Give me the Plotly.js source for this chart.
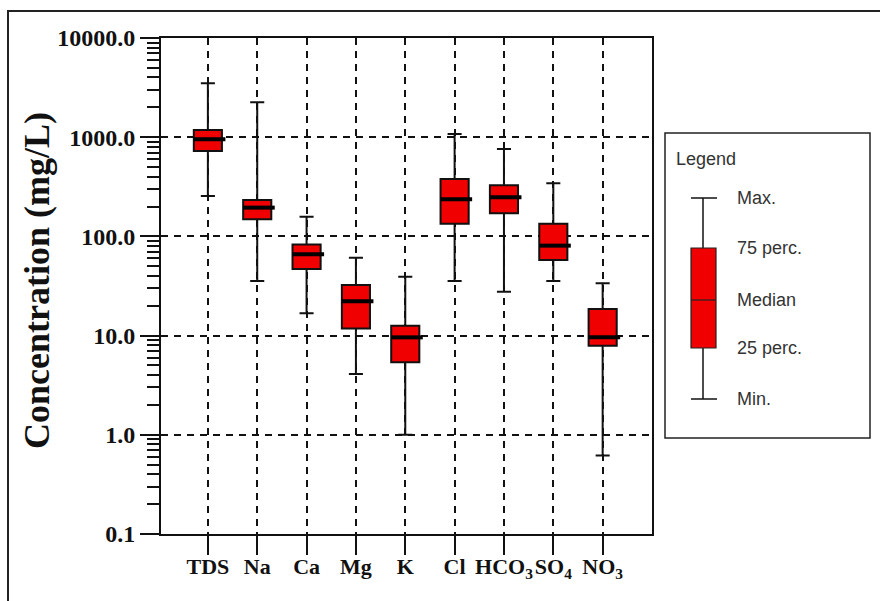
<!DOCTYPE html>
<html>
<head>
<meta charset="utf-8">
<script src="https://cdn.plot.ly/plotly-3.0.1.min.js"></script>
<style>
  html, body { margin: 0; padding: 0; background: #fff; overflow: hidden; }
  #wrap { position: relative; width: 880px; height: 601px; }
  #frame { position: absolute; left: 7px; top: 10px; width: 900px; height: 700px; border: 2px solid #222; box-sizing: border-box; pointer-events: none; }
  #chart { position: absolute; left: 0; top: 0; width: 880px; height: 601px; }
</style>
</head>
<body>
<div id="wrap">
  <div id="chart"></div>
  <div id="frame"></div>
</div>
<script>
// ---- data (mg/L) ----
const categories = ["TDS", "Na", "Ca", "Mg", "K", "Cl", "HCO<sub>3</sub>", "SO<sub>4</sub>", "NO<sub>3</sub>"];
const minVals    = [255, 35.5, 16.8, 4.1, 1.0, 35.5, 27.7, 35.5, 0.62];
const q1Vals     = [726, 149, 47, 11.8, 5.4, 134, 171, 57.8, 7.9];
const medianVals = [953, 195, 66, 22.2, 9.6, 237, 248, 80.7, 9.6];
const q3Vals     = [1183, 233, 83, 32.4, 12.6, 379, 327, 134, 18.5];
const maxVals    = [3490, 2249, 158, 61, 39.3, 1077, 760, 343, 33.7];
const yTickVals  = [0.1, 1, 10, 100, 1000, 10000];
const yTickText  = ["0.1", "1.0", "10.0", "100.0", "1000.0", "10000.0"];
const legendLabels = ["Max.", "75 perc.", "Median", "25 perc.", "Min."];

const idx = categories.map((_, i) => i);
const BOXW = 0.57;

const boxTrace = {
  type: 'box',
  x: idx,
  q1: q1Vals,
  median: medianVals,
  q3: q3Vals,
  lowerfence: minVals,
  upperfence: maxVals,
  width: BOXW,
  whiskerwidth: 1.03,
  fillcolor: '#f00000',
  line: { color: '#111', width: 2 },
  boxpoints: false,
  hoverinfo: 'skip',
  showlegend: false
};

// thick median bars
const mx = [], my = [];
idx.forEach(i => { mx.push(i - BOXW / 2, i + BOXW / 2 + 0.07, null); my.push(medianVals[i], medianVals[i], null); });
const medTrace = {
  type: 'scatter', mode: 'lines', x: mx, y: my,
  line: { color: '#000', width: 4 }, hoverinfo: 'skip', showlegend: false
};

// ---- layout geometry (pixels) ----
const W = 880, H = 601, L = 161, R = 652, T = 38, B = 534;
const px = v => (v - L) / (R - L);
const py = v => (B - v) / (B - T);

const serifBold = { family: 'Liberation Serif, Times New Roman, serif', size: 24, color: '#111' };
const serifBoldX = { family: 'Liberation Serif, Times New Roman, serif', size: 22, color: '#111' };
const sans = { family: 'Liberation Sans, Arial, sans-serif', size: 18, color: '#333' };

const shapes = [
  // legend frame
  { type: 'rect', xref: 'paper', yref: 'paper', x0: px(665), x1: px(870), y0: py(438), y1: py(133),
    line: { color: '#222', width: 1.5 }, fillcolor: 'rgba(0,0,0,0)' },
  // legend glyph whisker
  { type: 'line', xref: 'paper', yref: 'paper', x0: px(703), x1: px(703), y0: py(399), y1: py(198), line: { color: '#111', width: 1.5 } },
  { type: 'line', xref: 'paper', yref: 'paper', x0: px(691), x1: px(717), y0: py(198), y1: py(198), line: { color: '#111', width: 1.5 } },
  { type: 'line', xref: 'paper', yref: 'paper', x0: px(691), x1: px(717), y0: py(399), y1: py(399), line: { color: '#111', width: 1.5 } },
  { type: 'rect', xref: 'paper', yref: 'paper', x0: px(691), x1: px(716), y0: py(348), y1: py(248),
    line: { color: '#222', width: 1.2 }, fillcolor: '#f00000' },
  { type: 'line', xref: 'paper', yref: 'paper', x0: px(691), x1: px(716), y0: py(300), y1: py(300), line: { color: '#222', width: 1.2 } }
];

const legendY = [198, 248, 300, 348, 399];
const annotations = legendLabels.map((t, i) => ({
  text: t, xref: 'paper', yref: 'paper', x: px(735), y: py(legendY[i]),
  xanchor: 'left', yanchor: 'middle', showarrow: false, font: sans
}));
annotations.push({ text: 'Legend', xref: 'paper', yref: 'paper', x: px(674), y: py(159),
  xanchor: 'left', yanchor: 'middle', showarrow: false, font: sans });
annotations.push({ text: '<b>Concentration (mg/L)</b>', xref: 'paper', yref: 'paper', x: px(37), y: py(281),
  xanchor: 'center', yanchor: 'middle', textangle: -90, showarrow: false,
  font: { family: 'Liberation Serif, Times New Roman, serif', size: 36, color: '#111' } });

const layout = {
  width: W, height: H,
  margin: { l: L, r: W - R, t: T, b: H - B, pad: 0 },
  paper_bgcolor: 'rgba(0,0,0,0)', plot_bgcolor: '#fff',
  font: serifBold,
  showlegend: false,
  xaxis: {
    range: [-0.95, 9.0], tickvals: idx, ticktext: categories.map(c => '<b>' + c + '</b>'),
    tickangle: 0, ticklabelstandoff: -7,
    ticks: 'outside', ticklen: 19, tickwidth: 2, tickcolor: '#111',
    showline: true, linecolor: '#111', linewidth: 2, mirror: true,
    showgrid: true, gridcolor: '#111', gridwidth: 2, griddash: '7px,6px',
    zeroline: false, tickfont: serifBoldX, fixedrange: true
  },
  yaxis: {
    type: 'log', range: [-1, 4], tickvals: yTickVals, ticktext: yTickText.map(t => '<b>' + t + '</b>'),
    ticks: 'outside', ticklen: 19, tickwidth: 2, tickcolor: '#111',
    minor: { ticks: 'outside', ticklen: 12, tickwidth: 2, tickcolor: '#111', dtick: 'D1', showgrid: false },
    showline: true, linecolor: '#111', linewidth: 2, mirror: true,
    showgrid: true, gridcolor: '#111', gridwidth: 2, griddash: '7px,6px',
    zeroline: false, tickfont: serifBold, fixedrange: true
  },
  shapes: shapes,
  annotations: annotations
};

Plotly.newPlot('chart', [boxTrace, medTrace], layout, { staticPlot: true, displayModeBar: false });
</script>
</body>
</html>
